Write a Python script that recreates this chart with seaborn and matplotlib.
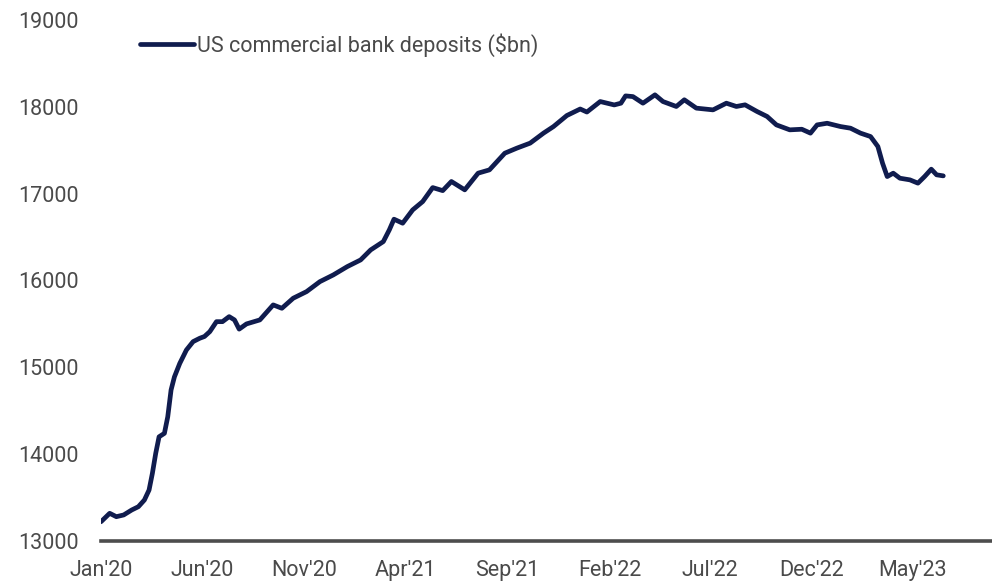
import matplotlib
matplotlib.use("Agg")
import matplotlib.pyplot as plt
import matplotlib.dates as mdates
import pandas as pd
import seaborn as sns

# Weekly US commercial bank deposits, $bn
dates = [
    "2020-01-01", "2020-01-14", "2020-01-24", "2020-02-04", "2020-02-16", "2020-02-26",
    "2020-03-06", "2020-03-13", "2020-03-18", "2020-03-23", "2020-03-28", "2020-04-05",
    "2020-04-10", "2020-04-15", "2020-04-20", "2020-04-28", "2020-05-08", "2020-05-18",
    "2020-05-28", "2020-06-04", "2020-06-12", "2020-06-22", "2020-07-01", "2020-07-11",
    "2020-07-19", "2020-07-26", "2020-08-06", "2020-08-26", "2020-09-15", "2020-09-28",
    "2020-10-15", "2020-11-04", "2020-11-24", "2020-12-14", "2021-01-04", "2021-01-24",
    "2021-02-08", "2021-02-27", "2021-03-08", "2021-03-15", "2021-03-28", "2021-04-12",
    "2021-04-27", "2021-05-12", "2021-05-27", "2021-06-09", "2021-06-29", "2021-07-19",
    "2021-08-05", "2021-08-28", "2021-09-15", "2021-10-05", "2021-10-25", "2021-11-09",
    "2021-11-29", "2021-12-19", "2021-12-29", "2022-01-18", "2022-02-08", "2022-02-18",
    "2022-02-25", "2022-03-08", "2022-03-23", "2022-04-10", "2022-04-22", "2022-05-12",
    "2022-05-24", "2022-06-11", "2022-07-06", "2022-07-26", "2022-08-10", "2022-08-23",
    "2022-09-10", "2022-09-25", "2022-10-09", "2022-10-29", "2022-11-16", "2022-11-29",
    "2022-12-09", "2022-12-24", "2023-01-13", "2023-01-28", "2023-02-12", "2023-02-27",
    "2023-03-10", "2023-03-17", "2023-03-24", "2023-04-02", "2023-04-12", "2023-04-27",
    "2023-05-09", "2023-05-19", "2023-05-29", "2023-06-06", "2023-06-16",
]
deposits = [
    13222, 13319, 13280, 13300, 13357, 13395,
    13472, 13587, 13780, 14010, 14200, 14240,
    14430, 14740, 14890, 15045, 15200, 15296,
    15335, 15355, 15411, 15526, 15526, 15584,
    15546, 15440, 15500, 15546, 15719, 15680,
    15796, 15872, 15987, 16064, 16160, 16237,
    16352, 16448, 16583, 16706, 16660, 16813,
    16909, 17070, 17035, 17140, 17044, 17236,
    17274, 17466, 17524, 17582, 17697, 17773,
    17900, 17975, 17940, 18061, 18022, 18042,
    18126, 18118, 18042, 18138, 18061, 18004,
    18081, 17985, 17965, 18042, 18004, 18023,
    17946, 17889, 17792, 17735, 17742, 17697,
    17792, 17811, 17773, 17754, 17697, 17658,
    17543, 17351, 17197, 17236, 17178, 17159,
    17121, 17197, 17282, 17217, 17205,
]

y_ticks = [13000, 14000, 15000, 16000, 17000, 18000, 19000]
x_ticks = ["2020-01-01", "2020-06-01", "2020-11-01", "2021-04-01", "2021-09-01",
           "2022-02-01", "2022-07-01", "2022-12-01", "2023-05-01"]
series_label = "US commercial bank deposits ($bn)"

df = pd.DataFrame({"date": pd.to_datetime(dates), "deposits": deposits})

sns.set_theme(style="white")
plt.rcParams["font.family"] = ["Roboto", "DejaVu Sans"]

navy = "#101c4e"
text_grey = "#4a4a4a"

fig = plt.figure(figsize=(9.92, 5.85), dpi=100)
ax = fig.add_axes([101 / 992, 1 - 541 / 585, 1 - 101 / 992, (541 - 20) / 585])

sns.lineplot(data=df, x="date", y="deposits", ax=ax, color=navy, linewidth=3.4,
             label=series_label)

ax.set_ylim(13000, 19000)
ax.set_xlim(pd.Timestamp("2020-01-01"), pd.Timestamp("2023-08-28"))
ax.set_yticks(y_ticks)
ax.set_xticks(pd.to_datetime(x_ticks))
ax.xaxis.set_major_formatter(mdates.DateFormatter("%b'%y"))
ax.tick_params(axis="both", length=0, labelsize=15.5, colors=text_grey)
ax.tick_params(axis="y", pad=16)
ax.tick_params(axis="x", pad=14)
ax.set_xlabel("")
ax.set_ylabel("")

for side in ("top", "right", "left"):
    ax.spines[side].set_visible(False)
ax.spines["bottom"].set_color("#4d4d4d")
ax.spines["bottom"].set_linewidth(2.6)
ax.spines["bottom"].set_clip_on(False)

leg = ax.legend(loc="upper left", bbox_to_anchor=(140 / 992, 1 - 33 / 585),
                bbox_transform=fig.transFigure, frameon=False, borderpad=0,
                borderaxespad=0, handlelength=2.5, handletextpad=0.15, fontsize=15.5)
for t in leg.get_texts():
    t.set_color(text_grey)

fig.savefig("out.png", dpi=100)
